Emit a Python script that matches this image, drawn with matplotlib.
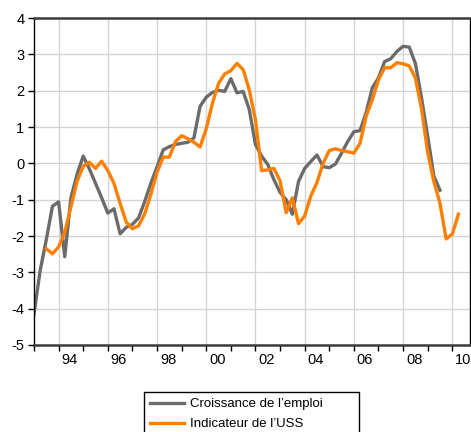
import numpy as np
import matplotlib.pyplot as plt

plt.rcParams['font.family'] = ['Liberation Sans', 'DejaVu Sans']

# Données trimestrielles (début 1993T1)
annee_debut = 1993

# Croissance de l'emploi : 1993T1 -> 2009T3
emploi = [-4.15, -2.95, -2.1, -1.18, -1.06, -2.57, -0.95, -0.3,
          0.2, -0.15, -0.55, -0.95, -1.37, -1.25, -1.94, -1.76,
          -1.68, -1.5, -1.05, -0.55, -0.1, 0.37, 0.46, 0.52,
          0.55, 0.58, 0.7, 1.57, 1.82, 1.95, 2.01, 1.98,
          2.33, 1.94, 1.98, 1.48, 0.52, 0.2, -0.03, -0.45,
          -0.8, -1.0, -1.4, -0.5, -0.14, 0.05, 0.23, -0.09,
          -0.12, -0.02, 0.28, 0.6, 0.87, 0.9, 1.4, 2.08,
          2.35, 2.8, 2.88, 3.08, 3.22, 3.2, 2.75, 1.8,
          0.75, -0.35, -0.74]

# Indicateur de l'USS : 1993T3 -> 2010T2
uss_debut = 2
uss = [-2.35, -2.49, -2.3, -1.9, -1.2, -0.5,
       -0.08, 0.03, -0.14, 0.06, -0.2, -0.55, -1.1, -1.62,
       -1.8, -1.72, -1.39, -0.85, -0.25, 0.17, 0.17, 0.6,
       0.76, 0.68, 0.58, 0.45, 0.95, 1.65, 2.2, 2.46,
       2.55, 2.75, 2.58, 2.02, 1.2, -0.2, -0.18, -0.14,
       -0.48, -1.36, -0.95, -1.66, -1.45, -0.9, -0.53, 0.0,
       0.35, 0.4, 0.35, 0.32, 0.28, 0.55, 1.3, 1.75,
       2.3, 2.63, 2.63, 2.77, 2.74, 2.68, 2.35, 1.5,
       0.3, -0.5, -1.1, -2.08, -1.95, -1.4]

x_emploi = annee_debut + np.arange(len(emploi)) / 4
x_uss = annee_debut + (uss_debut + np.arange(len(uss))) / 4

annees = np.arange(1993, 2011)
annees_paires = annees[annees % 2 == 0]
y_ticks = np.arange(-5, 5)

fig = plt.figure(figsize=(4.71, 4.32), dpi=100)
ax = fig.add_axes([34 / 471, 87 / 432, 436 / 471, 327 / 432])

# Grille
for a in annees_paires:
    ax.axvline(a, color='#d4d4d4', lw=1, zorder=0)
for y in y_ticks[1:-1]:
    ax.axhline(y, color='#d4d4d4', lw=1, zorder=0)

ax.plot(x_emploi, emploi, color='#6b6b6b', lw=2.4, label='Croissance de l\u2019emploi')
ax.plot(x_uss, uss, color='#ff7f00', lw=2.4, label='Indicateur de l\u2019USS')

ax.set_xlim(1993, 2010.72)
ax.set_ylim(-5, 4)

ax.set_yticks(y_ticks)
ax.set_yticklabels([str(v) for v in y_ticks])
ax.set_xticks(annees)
ax.set_xticklabels([])
ax.tick_params(axis='both', direction='out', length=4, width=1, labelsize=10.5, pad=3)

# Étiquettes des années, décalées vers le milieu de l'année
for a in annees_paires:
    ax.text(a + 0.45, -0.025, '%02d' % (a % 100), transform=ax.get_xaxis_transform(),
            ha='center', va='top', fontsize=10.5)

for s in ['left', 'right']:
    ax.spines[s].set_color('black')
    ax.spines[s].set_linewidth(1)
for s in ['top', 'bottom']:
    ax.spines[s].set_color('#3a3a3a')
    ax.spines[s].set_linewidth(1.8)

# Légende (le cadre déborde sous l'image, comme dans l'original)
fig.legend(loc='upper left', bbox_to_anchor=(144 / 471, 1 - 392 / 432 - 0.01, 215 / 471, 0.01),
           mode='expand', fontsize=9.5, frameon=True, fancybox=False, edgecolor='black',
           framealpha=1, handlelength=2.6, handletextpad=0.4, labelspacing=0.6,
           borderpad=0.45, borderaxespad=0)

fig.savefig('out.png', dpi=100)
